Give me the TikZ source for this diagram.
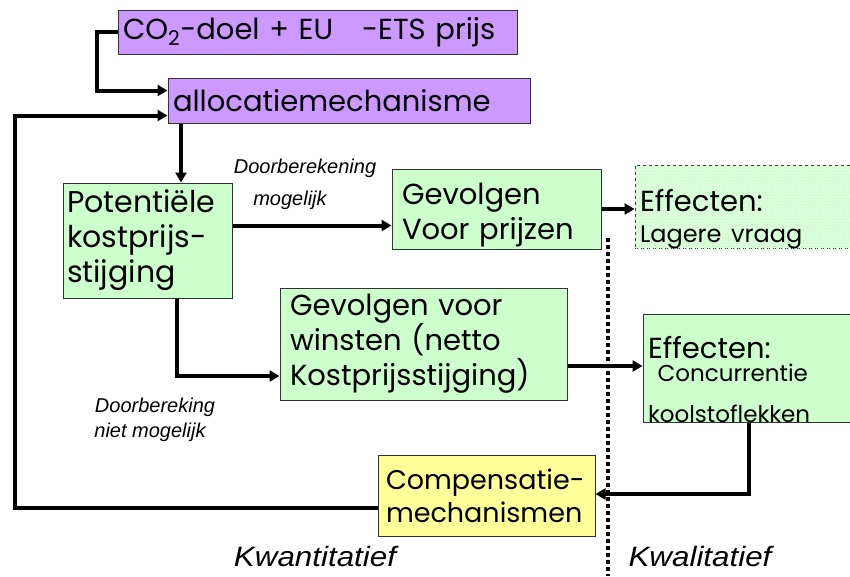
\documentclass[tikz,border=0pt]{standalone}
\usepackage{fontspec}
\setmainfont{Poppins}
\newfontfamily\notefont{Liberation Sans}
\usetikzlibrary{arrows.meta,patterns}
\definecolor{paars}{HTML}{CC99FF}
\definecolor{groen}{HTML}{CCFFCC}
\definecolor{geel}{HTML}{FFFF99}
\begin{document}
\begin{tikzpicture}[x=1pt,y=-1pt]
	 \tikzstyle{box}=[draw=black!80,line width=1pt,inner sep=0pt,align=left,font=\fontsize{29}{35}\selectfont]
	 \tikzstyle{arr} = [draw,line width=4pt,-{Triangle[length=10pt,width=11pt]},black]
	 \tikzstyle{note}=[font=\notefont\itshape\fontsize{20}{24}\selectfont]
	 \tikzstyle{side}=[font=\notefont\itshape\fontsize{28}{32}\selectfont,xscale=1.12]
	 \useasboundingbox (0,0) rectangle (850,576);
	 % boxes
	 \node[box,fill=paars,minimum width=399pt,minimum height=44pt,text width=389pt] (co2) at (317.5,32) {CO\textsubscript{2}-doel + EU\quad -ETS prijs};
	 \node[box,fill=paars,minimum width=362pt,minimum height=45pt,text width=352pt] (alloc) at (349,100.5) {allocatiemechanisme};
	 \node[box,fill=groen,minimum width=169pt,minimum height=115pt,text width=161pt,font=\fontsize{30}{35}\selectfont] (pot) at (147.5,240.5) {Potentiële\\kostprijs-\\stijging};
	 \node[box,fill=groen,minimum width=209pt,minimum height=80pt,text width=189pt] (prijs) at (496.5,209) {\rule{0pt}{34pt}Gevolgen\\Voor prijzen};
	 \node[box,fill=groen,dashed,postaction={pattern=north east lines,pattern color=white},minimum width=225pt,minimum height=78pt,text width=215pt] (eff1) at (747.5,207) {\rule{0pt}{46pt}Effecten:\\[-4pt]{\fontsize{24}{26}\selectfont Lagere vraag}};
	 \node[box,fill=groen,minimum width=287pt,minimum height=112pt,text width=267pt,font=\fontsize{29}{35}\selectfont] (winst) at (423.5,344) {Gevolgen voor\\winsten (netto\\Kostprijsstijging)};
	 \node[box,fill=groen,minimum width=212pt,minimum height=103pt,text width=202pt] (eff2) at (749,368.5) {\rule{0pt}{44pt}Effecten:\\[-12pt]{\fontsize{23}{26}\selectfont\ Concurrentie}\\[6pt]{\fontsize{23}{26}\selectfont koolstoflekken}};
	 \node[box,fill=geel,minimum width=217pt,minimum height=81pt,text width=201pt,font=\fontsize{27}{33}\selectfont] (comp) at (486.5,495.5) {Compensatie-\\mechanismen};
	 % labels
	 \node[note] (door1) at (305,168) {Doorberekening};
	 \node[note] (mog1) at (290,200) {mogelijk};
	 \node[note] (door2) at (155,407) {Doorbereking};
	 \node[note] (mog2) at (150,432) {niet mogelijk};
	 \node[side] (kwant) at (315,556) {Kwantitatief};
	 \node[side] (kwal) at (700,556) {Kwalitatief};
	 % dividing line
	 \draw[line width=4pt,dash pattern=on 3.5pt off 3.5pt] (608,238) -- (608,576);
	 % connectors
	 \coordinate (a1) at ([xshift=33.5pt]pot.north);
	 \coordinate (a2) at ([xshift=29.5pt]pot.south);
	 \draw[arr] (co2.west) -- ++(-21,0) |- ([yshift=10pt]alloc.west);
	 \draw[arr] ([yshift=-12pt]comp.west) -- ++(-363,0) |- ([yshift=-15pt]alloc.west);
	 \draw[arr] (alloc.south -| a1) -- (a1);
	 \draw[arr] ([yshift=15pt]pot.east) -- ([yshift=15pt]prijs.west |- pot.east);
	 \draw[arr] (a2) |- ([yshift=-32pt]winst.west);
	 \draw[arr] (prijs.east) -- (eff1.west |- prijs.east);
	 \draw[arr] ([yshift=-22pt]winst.east) -- ([yshift=-22pt]eff2.west |- winst.east);
	 \draw[arr] (eff2.south) |- ([yshift=1.5pt]comp.east);
 \end{tikzpicture}
\end{document}
